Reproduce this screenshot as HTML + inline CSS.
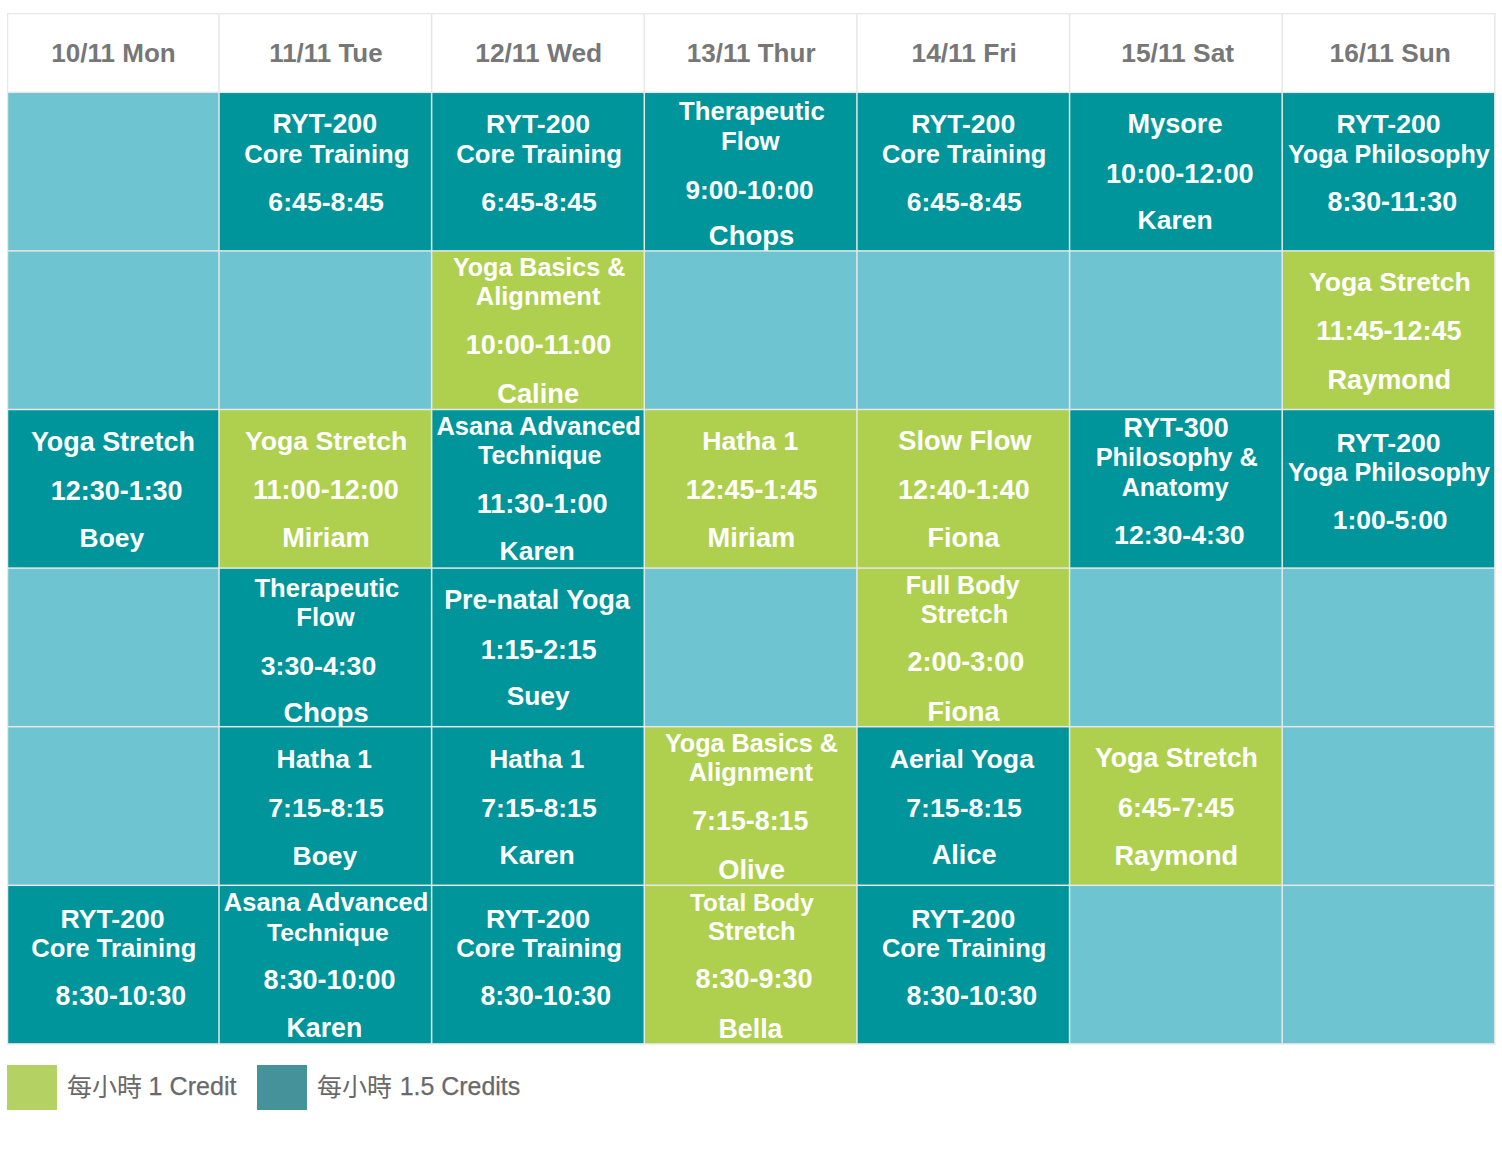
<!DOCTYPE html>
<html lang="zh-Hant"><head><meta charset="utf-8"><title>Class Schedule</title>
<style>
html,body{margin:0;padding:0;background:#fff}
body{width:1502px;height:1154px;position:relative;overflow:hidden;font-family:"Liberation Sans",sans-serif}
.grid{position:absolute;left:7px;top:13px;width:1489px;height:1032px;background:#fff}
.ln{position:absolute;left:0;top:0;pointer-events:none}
/*#dcdfdf*/
.th{position:absolute;top:0;height:79px;background:#fff;color:#777;font-weight:bold;overflow:hidden}
.th span{position:absolute;white-space:nowrap;line-height:1}
.c{position:absolute;overflow:hidden;color:#fff;font-weight:bold}
.c span{position:absolute;white-space:nowrap;line-height:1}
.t{background:#00959b}.g{background:#afd04f}.b{background:#6fc4d1}
.lg{position:absolute;top:1065px;width:50px;height:45px}
.lt{position:absolute;color:#696969;white-space:nowrap;line-height:1;-webkit-text-stroke:0.25px #696969}
</style></head><body>
<div class="grid">

<div class="th" style="left:0px;width:212px"><span style="left:44.34px;top:27.00px;font-size:26.04px">10/11 Mon</span></div>
<div class="th" style="left:212px;width:213px"><span style="left:50.24px;top:28.00px;font-size:25.92px">11/11 Tue</span></div>
<div class="th" style="left:425px;width:212px"><span style="left:43.22px;top:27.00px;font-size:26.37px">12/11 Wed</span></div>
<div class="th" style="left:637px;width:213px"><span style="left:42.74px;top:27.00px;font-size:26.06px">13/11 Thur</span></div>
<div class="th" style="left:850px;width:213px"><span style="left:54.52px;top:27.00px;font-size:26.30px">14/11 Fri</span></div>
<div class="th" style="left:1063px;width:212px"><span style="left:51.22px;top:27.00px;font-size:26.39px">15/11 Sat</span></div>
<div class="th" style="left:1275px;width:213px"><span style="left:47.52px;top:27.00px;font-size:26.29px">16/11 Sun</span></div>
<div class="c b" style="left:0px;top:79px;width:212px;height:159px"></div>
<div class="c t" style="left:212px;top:79px;width:213px;height:159px"><span style="left:53.56px;top:19.00px;font-size:26.73px">RYT-200</span><span style="left:25.28px;top:50.00px;font-size:25.62px">Core Training</span><span style="left:49.37px;top:97.00px;font-size:26.67px">6:45-8:45</span></div>
<div class="c t" style="left:425px;top:79px;width:212px;height:159px"><span style="left:53.97px;top:19.00px;font-size:26.63px">RYT-200</span><span style="left:24.27px;top:50.00px;font-size:25.71px">Core Training</span><span style="left:49.37px;top:97.00px;font-size:26.67px">6:45-8:45</span></div>
<div class="c t" style="left:637px;top:79px;width:213px;height:159px"><span style="left:35.04px;top:7.00px;font-size:25.71px">Therapeutic</span><span style="left:77.03px;top:37.00px;font-size:25.74px">Flow</span><span style="left:41.51px;top:85.00px;font-size:26.19px">9:00-10:00</span><span style="left:64.80px;top:130.00px;font-size:27.48px">Chops</span></div>
<div class="c t" style="left:850px;top:79px;width:213px;height:159px"><span style="left:54.17px;top:19.00px;font-size:26.63px">RYT-200</span><span style="left:24.88px;top:50.00px;font-size:25.52px">Core Training</span><span style="left:49.77px;top:97.00px;font-size:26.53px">6:45-8:45</span></div>
<div class="c t" style="left:1063px;top:79px;width:212px;height:159px"><span style="left:57.54px;top:18.00px;font-size:27.13px">Mysore</span><span style="left:36.07px;top:68.00px;font-size:27.09px">10:00-12:00</span><span style="left:67.58px;top:115.00px;font-size:26.51px">Karen</span></div>
<div class="c t" style="left:1275px;top:79px;width:213px;height:159px"><span style="left:54.57px;top:19.00px;font-size:26.63px">RYT-200</span><span style="left:5.92px;top:50.00px;font-size:25.11px">Yoga Philosophy</span><span style="left:45.50px;top:97.00px;font-size:26.79px">8:30-11:30</span></div>
<div class="c b" style="left:0px;top:238px;width:212px;height:159px"></div>
<div class="c b" style="left:212px;top:238px;width:213px;height:159px"></div>
<div class="c g" style="left:425px;top:238px;width:212px;height:159px"><span style="left:20.92px;top:4.00px;font-size:25.09px">Yoga Basics &amp;</span><span style="left:43.79px;top:33.00px;font-size:25.51px">Alignment</span><span style="left:33.68px;top:81.00px;font-size:27.00px">10:00-11:00</span><span style="left:65.21px;top:129.00px;font-size:27.31px">Caline</span></div>
<div class="c b" style="left:637px;top:238px;width:213px;height:159px"></div>
<div class="c b" style="left:850px;top:238px;width:213px;height:159px"></div>
<div class="c b" style="left:1063px;top:238px;width:212px;height:159px"></div>
<div class="c g" style="left:1275px;top:238px;width:213px;height:159px"><span style="left:26.90px;top:18.00px;font-size:26.59px">Yoga Stretch</span><span style="left:34.29px;top:67.00px;font-size:26.91px">11:45-12:45</span><span style="left:45.54px;top:115.00px;font-size:27.12px">Raymond</span></div>
<div class="c t" style="left:0px;top:397px;width:212px;height:158px"><span style="left:23.90px;top:19.00px;font-size:26.92px">Yoga Stretch</span><span style="left:43.68px;top:68.00px;font-size:26.98px">12:30-1:30</span><span style="left:72.58px;top:115.00px;font-size:26.40px">Boey</span></div>
<div class="c g" style="left:212px;top:397px;width:213px;height:158px"><span style="left:25.90px;top:18.00px;font-size:26.65px">Yoga Stretch</span><span style="left:34.08px;top:67.00px;font-size:27.00px">11:00-12:00</span><span style="left:63.13px;top:114.00px;font-size:27.17px">Miriam</span></div>
<div class="c t" style="left:425px;top:397px;width:212px;height:158px"><span style="left:4.39px;top:4.00px;font-size:25.51px">Asana Advanced</span><span style="left:46.05px;top:33.00px;font-size:25.06px">Technique</span><span style="left:44.67px;top:80.00px;font-size:27.08px">11:30-1:00</span><span style="left:67.58px;top:128.00px;font-size:26.51px">Karen</span></div>
<div class="c g" style="left:637px;top:397px;width:213px;height:158px"><span style="left:58.17px;top:18.00px;font-size:26.64px">Hatha 1</span><span style="left:41.68px;top:67.00px;font-size:26.93px">12:45-1:45</span><span style="left:63.53px;top:114.00px;font-size:27.23px">Miriam</span></div>
<div class="c g" style="left:850px;top:397px;width:213px;height:158px"><span style="left:41.22px;top:17.00px;font-size:27.29px">Slow Flow</span><span style="left:41.09px;top:67.00px;font-size:26.90px">12:40-1:40</span><span style="left:70.55px;top:115.00px;font-size:26.97px">Fiona</span></div>
<div class="c t" style="left:1063px;top:397px;width:212px;height:158px"><span style="left:53.55px;top:5.00px;font-size:26.89px">RYT-300</span><span style="left:25.65px;top:35.00px;font-size:25.38px">Philosophy &amp;</span><span style="left:51.80px;top:65.00px;font-size:24.99px">Anatomy</span><span style="left:44.10px;top:112.00px;font-size:26.69px">12:30-4:30</span></div>
<div class="c t" style="left:1275px;top:397px;width:213px;height:158px"><span style="left:54.57px;top:20.00px;font-size:26.63px">RYT-200</span><span style="left:5.92px;top:50.00px;font-size:25.16px">Yoga Philosophy</span><span style="left:50.71px;top:97.00px;font-size:26.51px">1:00-5:00</span></div>
<div class="c b" style="left:0px;top:555px;width:212px;height:159px"></div>
<div class="c t" style="left:212px;top:555px;width:213px;height:159px"><span style="left:35.44px;top:8.00px;font-size:25.57px">Therapeutic</span><span style="left:77.23px;top:37.00px;font-size:25.65px">Flow</span><span style="left:41.77px;top:85.00px;font-size:26.64px">3:30-4:30</span><span style="left:64.61px;top:131.00px;font-size:27.35px">Chops</span></div>
<div class="c t" style="left:425px;top:555px;width:212px;height:159px"><span style="left:12.15px;top:19.00px;font-size:26.89px">Pre-natal Yoga</span><span style="left:48.69px;top:69.00px;font-size:26.78px">1:15-2:15</span><span style="left:74.64px;top:115.00px;font-size:26.40px">Suey</span></div>
<div class="c b" style="left:637px;top:555px;width:213px;height:159px"></div>
<div class="c g" style="left:850px;top:555px;width:213px;height:159px"><span style="left:48.67px;top:5.00px;font-size:25.04px">Full Body</span><span style="left:63.66px;top:34.00px;font-size:25.42px">Stretch</span><span style="left:50.49px;top:81.00px;font-size:26.93px">2:00-3:00</span><span style="left:70.55px;top:131.00px;font-size:26.97px">Fiona</span></div>
<div class="c b" style="left:1063px;top:555px;width:212px;height:159px"></div>
<div class="c b" style="left:1275px;top:555px;width:213px;height:159px"></div>
<div class="c b" style="left:0px;top:714px;width:212px;height:158px"></div>
<div class="c t" style="left:212px;top:714px;width:213px;height:158px"><span style="left:57.58px;top:19.00px;font-size:26.41px">Hatha 1</span><span style="left:49.23px;top:68.00px;font-size:26.70px">7:15-8:15</span><span style="left:73.58px;top:116.00px;font-size:26.48px">Boey</span></div>
<div class="c t" style="left:425px;top:714px;width:212px;height:158px"><span style="left:57.19px;top:19.00px;font-size:26.36px">Hatha 1</span><span style="left:49.23px;top:68.00px;font-size:26.65px">7:15-8:15</span><span style="left:67.58px;top:115.00px;font-size:26.51px">Karen</span></div>
<div class="c g" style="left:637px;top:714px;width:213px;height:158px"><span style="left:20.92px;top:4.00px;font-size:25.18px">Yoga Basics &amp;</span><span style="left:44.79px;top:33.00px;font-size:25.39px">Alignment</span><span style="left:48.23px;top:81.00px;font-size:26.79px">7:15-8:15</span><span style="left:74.21px;top:129.00px;font-size:27.29px">Olive</span></div>
<div class="c t" style="left:850px;top:714px;width:213px;height:158px"><span style="left:32.77px;top:19.00px;font-size:26.66px">Aerial Yoga</span><span style="left:49.23px;top:68.00px;font-size:26.70px">7:15-8:15</span><span style="left:74.76px;top:114.00px;font-size:27.11px">Alice</span></div>
<div class="c g" style="left:1063px;top:714px;width:212px;height:158px"><span style="left:24.90px;top:18.00px;font-size:26.75px">Yoga Stretch</span><span style="left:47.96px;top:68.00px;font-size:26.86px">6:45-7:45</span><span style="left:44.54px;top:115.00px;font-size:27.12px">Raymond</span></div>
<div class="c b" style="left:1275px;top:714px;width:213px;height:158px"></div>
<div class="c t" style="left:0px;top:872px;width:212px;height:159px"><span style="left:53.57px;top:21.00px;font-size:26.63px">RYT-200</span><span style="left:24.28px;top:51.00px;font-size:25.62px">Core Training</span><span style="left:48.50px;top:98.00px;font-size:26.73px">8:30-10:30</span></div>
<div class="c t" style="left:212px;top:872px;width:213px;height:159px"><span style="left:4.79px;top:5.00px;font-size:25.51px">Asana Advanced</span><span style="left:48.05px;top:36.00px;font-size:24.73px">Technique</span><span style="left:44.49px;top:82.00px;font-size:27.02px">8:30-10:00</span><span style="left:67.56px;top:130.00px;font-size:26.73px">Karen</span></div>
<div class="c t" style="left:425px;top:872px;width:212px;height:159px"><span style="left:53.97px;top:21.00px;font-size:26.63px">RYT-200</span><span style="left:24.27px;top:51.00px;font-size:25.71px">Core Training</span><span style="left:48.50px;top:98.00px;font-size:26.73px">8:30-10:30</span></div>
<div class="c g" style="left:637px;top:872px;width:213px;height:159px"><span style="left:46.06px;top:6.00px;font-size:24.29px">Total Body</span><span style="left:64.06px;top:34.00px;font-size:25.42px">Stretch</span><span style="left:51.49px;top:81.00px;font-size:27.03px">8:30-9:30</span><span style="left:74.56px;top:131.00px;font-size:26.74px">Bella</span></div>
<div class="c t" style="left:850px;top:872px;width:213px;height:159px"><span style="left:54.17px;top:21.00px;font-size:26.63px">RYT-200</span><span style="left:24.88px;top:51.00px;font-size:25.52px">Core Training</span><span style="left:49.50px;top:98.00px;font-size:26.73px">8:30-10:30</span></div>
<div class="c b" style="left:1063px;top:872px;width:212px;height:159px"></div>
<div class="c b" style="left:1275px;top:872px;width:213px;height:159px"></div>
<svg class="ln" width="1489" height="1032" viewBox="7 13 1489 1032" shape-rendering="geometricPrecision"><rect x="6.75" y="12.80" width="1.50" height="1031.85" fill="#e6e7e7"/><rect x="218.25" y="12.80" width="1.50" height="1031.85" fill="#e6e7e7"/><rect x="430.89" y="12.80" width="1.50" height="1031.85" fill="#e6e7e7"/><rect x="643.53" y="12.80" width="1.50" height="1031.85" fill="#e6e7e7"/><rect x="856.17" y="12.80" width="1.50" height="1031.85" fill="#e6e7e7"/><rect x="1068.81" y="12.80" width="1.50" height="1031.85" fill="#e6e7e7"/><rect x="1281.45" y="12.80" width="1.50" height="1031.85" fill="#e6e7e7"/><rect x="1494.09" y="12.80" width="1.50" height="1031.85" fill="#e6e7e7"/><rect x="6.75" y="12.80" width="1488.84" height="1.50" fill="#e6e7e7"/><rect x="6.75" y="91.55" width="1488.84" height="1.50" fill="#e6e7e7"/><rect x="6.75" y="250.15" width="1488.84" height="1.50" fill="#e6e7e7"/><rect x="6.75" y="408.75" width="1488.84" height="1.50" fill="#e6e7e7"/><rect x="6.75" y="567.35" width="1488.84" height="1.50" fill="#e6e7e7"/><rect x="6.75" y="725.95" width="1488.84" height="1.50" fill="#e6e7e7"/><rect x="6.75" y="884.55" width="1488.84" height="1.50" fill="#e6e7e7"/><rect x="6.75" y="1043.15" width="1488.84" height="1.50" fill="#e6e7e7"/></svg>
</div>

<div class="lg" style="left:7px;background:#b4d164"></div>
<svg style="position:absolute;left:66.80px;top:1072.45px" width="75.0" height="30.0" viewBox="0 -950 3000 1200" role="img" aria-label="每小時"><text x="0" y="0" font-size="1000" fill="#696969" font-family="'Liberation Sans','Noto Sans CJK TC',sans-serif">每小時</text></svg>
<span class="lt" style="left:148.62px;top:1074.24px;font-size:25.12px">1 Credit</span>
<div class="lg" style="left:257px;background:#46929b"></div>
<svg style="position:absolute;left:316.60px;top:1072.45px" width="75.0" height="30.0" viewBox="0 -950 3000 1200" role="img" aria-label="每小時"><text x="0" y="0" font-size="1000" fill="#696969" font-family="'Liberation Sans','Noto Sans CJK TC',sans-serif">每小時</text></svg>
<span class="lt" style="left:399.73px;top:1074.40px;font-size:24.93px">1.5 Credits</span>
</body></html>
